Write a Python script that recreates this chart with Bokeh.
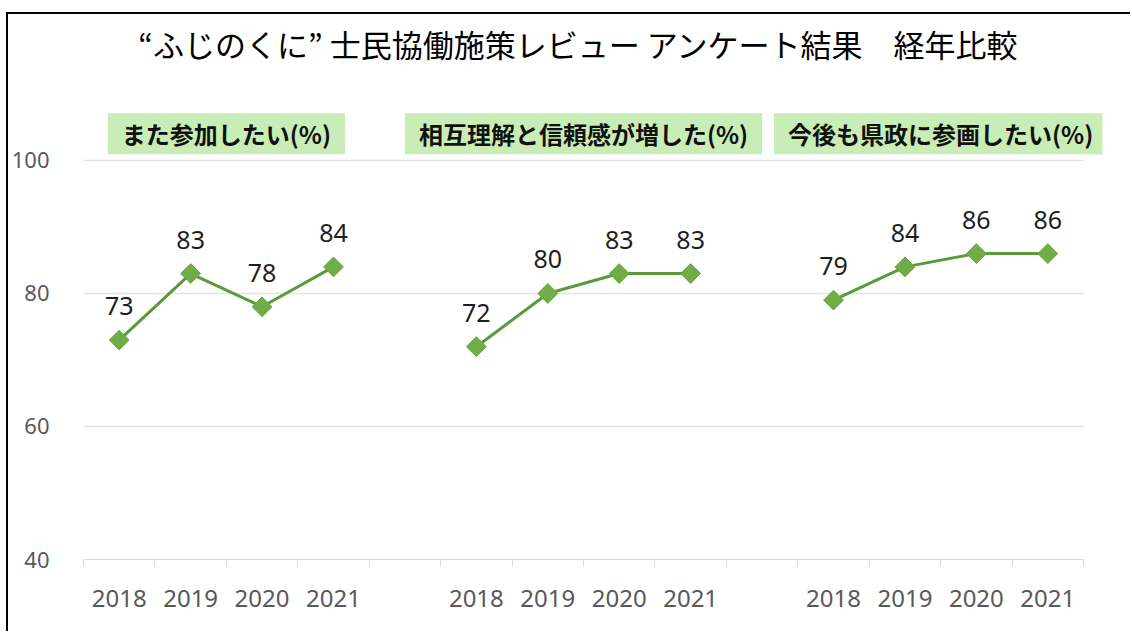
import math
from bokeh.plotting import figure
from bokeh.models import Range1d, FixedTicker, Label, ColumnDataSource
from bokeh.embed import file_html
from bokeh.resources import INLINE
from bokeh.core.properties import value

# ---- data ----
title_text = "“ふじのくに” 士民協働施策レビュー アンケート結果　経年比較"
years = ["2018", "2019", "2020", "2021"]
group_titles = ["また参加したい(%)", "相互理解と信頼感が増した(%)", "今後も県政に参画したい(%)"]
again_pct = [73, 83, 78, 84]
trust_pct = [72, 80, 83, 83]
participate_pct = [79, 84, 86, 86]
y_ticks = [40, 60, 80, 100]

series = [again_pct, trust_pct, participate_pct]
slots_per_group = len(years) + 1
n_slots = slots_per_group * len(series) - 1

# frame spans a bit past the last slot so the third heading box is not clipped
x_end = n_slots * 1020 / 1001

p = figure(width=1124, height=619,
           x_range=Range1d(0, x_end), y_range=Range1d(40, 121.95),
           output_backend="svg", toolbar_location=None,
           min_border_left=74, min_border_right=30,
           min_border_bottom=74, min_border_top=0)
p.styles = {"border-top": "2px solid #000", "border-left": "2px solid #000",
            "margin-left": "6px", "margin-top": "12px"}
p.outline_line_color = None
p.background_fill_color = "white"
p.border_fill_color = "white"

# title (drawn inside the tall frame area)
p.add_layout(Label(x=495, y=516, x_units="screen", y_units="screen",
                   text=title_text, text_align="center", text_baseline="middle",
                   text_font="Noto Sans CJK JP", text_font_size="31px",
                   text_color="#000000"))

# x axis
centers = []
overrides = {}
for g in range(len(series)):
    for i, yr in enumerate(years):
        c = g * slots_per_group + i + 0.5
        centers.append(c)
        overrides[c] = yr
p.xaxis.ticker = FixedTicker(ticks=centers, minor_ticks=list(range(n_slots + 1)))
p.xaxis.bounds = (0, n_slots)
p.xaxis.major_label_overrides = overrides
p.xaxis.major_tick_line_color = None
p.xaxis.major_tick_out = 0
p.xaxis.minor_tick_out = 7
p.xaxis.minor_tick_in = 0
p.xaxis.minor_tick_line_color = "#DADADA"
p.xaxis.axis_line_color = "#DADADA"
p.xaxis.major_label_text_font = "Noto Sans"
p.xaxis.major_label_text_font_size = "24px"
p.xaxis.major_label_text_color = "#595959"
p.xaxis.major_label_standoff = 23
p.xgrid.grid_line_color = None

# y axis
p.yaxis.ticker = FixedTicker(ticks=y_ticks)
p.yaxis.axis_line_color = None
p.yaxis.major_tick_line_color = None
p.yaxis.minor_tick_line_color = None
p.yaxis.major_label_text_font = "Noto Sans"
p.yaxis.major_label_text_font_size = "22px"
p.yaxis.major_label_text_color = "#595959"
p.yaxis.major_label_standoff = 28
p.ygrid.grid_line_color = None

# horizontal gridlines limited to the category slots
grid_y = [t for t in y_ticks if t > 40]
p.segment(x0=[0] * len(grid_y), x1=[n_slots] * len(grid_y), y0=grid_y, y1=grid_y,
          line_color="#E3E3E3", line_width=1.5)

for g, vals in enumerate(series):
    xs = [g * slots_per_group + i + 0.5 for i in range(len(vals))]
    src = ColumnDataSource(dict(x=xs, y=vals, lbl=[str(v) for v in vals]))
    p.line("x", "y", source=src, line_color="#5B9A3A", line_width=3)
    p.scatter("x", "y", source=src, marker="square", size=14, angle=math.pi / 4,
              fill_color="#70AD47", line_color="#66A640", line_width=1)
    p.text("x", "y", text="lbl", source=src, text_align="center",
           text_baseline="bottom", y_offset=-25,
           text_font=value("Noto Sans"), text_font_size="25px",
           text_color="#1E1E1E")
    gc = g * slots_per_group + len(vals) / 2
    p.add_layout(Label(x=gc, y=104.0, text=group_titles[g],
                       text_align="center", text_baseline="middle",
                       text_font="Noto Sans CJK JP", text_font_size="24px",
                       text_font_style="bold", text_color="#111111",
                       background_fill_color="#C8EDB6",
                       padding=(14, 3)))

open("out.html", "w").write(file_html(p, INLINE))
